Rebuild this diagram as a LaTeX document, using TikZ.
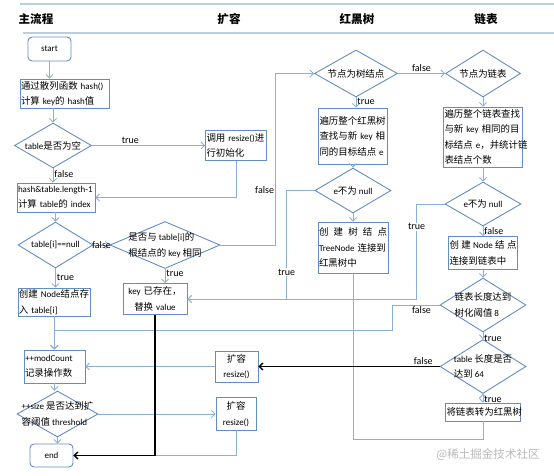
\documentclass[tikz,border=0pt]{standalone}
\usepackage{fontspec}
\setmainfont{Carlito}
\newfontfamily\cjk[Scale=1.05]{Noto Sans CJK SC}
\newcommand{\zh}[1]{{\cjk #1}}
\usetikzlibrary{arrows.meta}
\usetikzlibrary{shapes.geometric}
\usetikzlibrary{calc}
\definecolor{flowline}{RGB}{140,175,215}
\definecolor{flowedge}{RGB}{100,140,195}
\definecolor{headline}{RGB}{185,205,228}

\begin{document}
\begin{tikzpicture}[x=1pt,y=-1pt,
    font=\fontsize{9}{15.5}\selectfont,
    >={Straight Barb[length=3.5pt,width=7pt]},
    term/.style={draw=flowedge,line width=0.9pt,rounded corners=4pt,
      minimum width=43pt,minimum height=24pt},
    box/.style 2 args={draw=flowedge,line width=0.8pt,inner sep=1pt,
      text width=#1pt,minimum height=#2pt,align=left},
    dia/.style n args={3}{diamond,draw=flowedge,line width=0.9pt,inner sep=0pt,
      minimum width=#1pt,minimum height=#2pt,label={[align=left]center:{#3}}},
    flow/.style={draw=flowline,line width=0.9pt},
    heavy/.style={draw=black,line width=1.4pt},
    lbl/.style={inner sep=1pt,font=\fontsize{10}{12}\selectfont}]
  \useasboundingbox (0,0) rectangle (554,475);

  % lanes
  \draw[headline,line width=2pt] (20,4) -- (554,4);
  \draw[headline,line width=2pt] (23,33) -- (554,33);
  \node[font=\fontsize{11}{13}\selectfont\bfseries] (h_0) at (36,19)  {\zh{主流程}};
  \node[font=\fontsize{11}{13}\selectfont\bfseries] (h_1) at (229,19) {\zh{扩容}};
  \node[font=\fontsize{11}{13}\selectfont\bfseries] (h_2) at (357,19) {\zh{红黑树}};
  \node[font=\fontsize{11}{13}\selectfont\bfseries] (h_3) at (486,19) {\zh{链表}};

  % main flow
  \node[term] (m_0) at (49.5,49) {start};
  \node[box={87}{29}] (m_1) at (64.5,93.5) {\zh{通过散列函数}~hash()\\\zh{计算}~key\zh{的}~hash\zh{值}};
  \node[dia={77}{45}{table\zh{是否为空}}] (m_2) at (53,145.5) {};
  \node[box={76}{29}] (m_3) at (56,197.5) {hash\&table.length-1\\\zh{计算}~table\zh{的}~index};
  \node[dia={75}{46}{table[i]==null}] (m_4) at (55.5,245) {};
  \node[dia={110}{47}{\zh{是否与} table[i]\zh{的}\\\zh{根结点的} key \zh{相同}}] (m_5) at (165,245) {};
  \node[box={70}{28}] (m_6) at (54,302) {\zh{创建}~Node\zh{结点存}\\\zh{入}~table[i]};
  \node[box={62}{31},align=center] (m_7) at (155,299) {key~\zh{已存在，}\\\zh{替换}~value};
  \node[box={59}{33}] (m_8) at (54.5,366.5) {++modCount\\\zh{记录操作数}};
  \node[dia={81}{46}{++size \zh{是否达到扩}\\\zh{容阈值} threshold}] (m_9) at (57.5,414) {};
  \node[term,minimum height=23pt] (m_10) at (51.5,455.5) {end};

  % resize
  \node[box={59}{30}] (r_0) at (236,145.5) {\zh{调用}~resize()\zh{进}\\\zh{行初始化}};
  \node[box={41}{31},align=center] (r_1) at (236.5,366.5) {\zh{扩容}\\resize()};
  \node[box={38}{33},align=center] (r_2) at (236,414) {\zh{扩容}\\resize()};

  % red-black tree
  \node[dia={83}{47}{\zh{节点为树结点}}] (t_0) at (356,73.5) {};
  \node[box={67}{56}] (t_1) at (353,136) {\zh{遍历整个红黑树}\\\zh{查找与新}~key~\zh{相}\\\zh{同的目标结点}~e};
  \node[dia={76}{45}{e\zh{不为} null}] (t_2) at (353,190.5) {};
  \node[box={68}{51}] (t_3) at (353,247.5) {\zh{创\hfill 建\hfill 树\hfill 结\hfill 点}\\TreeNode~\zh{连接到}\\\zh{红黑树中}};

  % linked list
  \node[dia={75}{47}{\zh{节点为链表}}] (l_0) at (483,73.5) {};
  \node[box={77}{60}] (l_1) at (483,137) {\zh{遍历整个链表查找}\\\zh{与新}~key~\zh{相同的目}\\\zh{标结点}~e\zh{，并统计链}\\\zh{表结点个数}};
  \node[dia={76}{44}{e\zh{不为} null}] (l_2) at (483,204) {};
  \node[box={67}{33}] (l_3) at (483,253) {\zh{创\hfill 建}\hfill Node\hfill\zh{结\hfill 点}\\\zh{连接到链表中}};
  \node[dia={86}{54}{\zh{链表长度达到}\\\zh{树化阈值} 8}] (l_4) at (483,305) {};
  \node[dia={86}{54}{table \zh{长度是否}\\\zh{达到} 64}] (l_5) at (483,366.5) {};
  \node[box={73}{18}] (l_6) at (483,412) {\zh{将链表转为红黑树}};

  \node[text=gray!55,font=\fontsize{11}{13}\selectfont] (w_0) at (488,455) {\zh{@稀土掘金技术社区}};

  \coordinate (j_0) at (353,330);
  \coordinate (j_1) at (392,330);

  \path[->,flow]
    (m_0.south) edge (m_0.south |- m_1.north)
    (m_2.north |- m_1.south) edge (m_2.north)
    (m_2.east) edge[above] node[lbl,pos=0.34] {true} (r_0.west)
    (m_2.south) edge[right] node[lbl,pos=0.4] {false} (m_2.south |- m_3.north)
    (m_4.north |- m_3.south) edge (m_4.north)
    (m_4.east) edge node[lbl] {false} (m_5.west)
    (m_4.south) edge[right] node[lbl,pos=0.45] {true} (m_4.south |- m_6.north)
    (m_5.south) edge[right] node[lbl,pos=0.3] {true} (m_5.south |- m_7.north)
    (m_6.south) edge (m_6.south |- m_8.north)
    (m_8.south) edge (m_8.south |- m_9.north)
    (m_9.south) edge (m_9.south |- m_10.north)
    (m_9.east) edge (r_2.west)
    (r_1.west) edge (m_8.east)
    (t_0.south) edge[right] node[lbl,pos=0.4] {true} (t_0.south |- t_1.north)
    (t_0.east) edge[above] node[lbl] {false} (l_0.west)
    (t_1.south) edge (t_2.north)
    (t_2.south) edge (t_3.north)
    (l_0.south) edge (l_1.north)
    (l_1.south) edge (l_2.north)
    (l_2.south) edge[right] node[lbl] {false} (l_3.north)
    (l_3.south) edge (l_4.north)
    (l_4.south) edge[right] node[lbl,pos=0.9] {true} (l_5.north)
    (l_5.south) edge[right] node[lbl,pos=0.6] {true} (l_6.north);

  \draw[->,flow] (r_0.south) |- (m_3.east);
  \draw[->,flow] (m_5.east) -- ++(55,0) |- node[lbl,left,pos=0.16] {false} (t_0.west);
  \draw[->,flow] (t_2.west) -- ++(-28,0) |- node[lbl,fill=white,pos=0.375] {true} (m_7.east);
  \draw[->,flow] (l_2.west) -- ++(-28,0) |- node[lbl,fill=white,pos=0.12] {true} (m_7.east);
  \draw[flow] (t_3.south) -- (j_0);
  \draw[flow] (l_6.south) -- ++(0,18) -| (j_0);
  \draw[->,flow] (l_4.west) -| node[lbl,below,pos=0.19] {false} (j_1) -| (m_8.north);
  \draw[flow] (r_2.south) |- (m_10.east);
  \draw[->,heavy] (l_5.west) -- node[lbl,above,pos=0.09] {false} (r_1.east);
  \draw[->,heavy] (m_7.south) |- (m_10.east);
\end{tikzpicture}
\end{document}
